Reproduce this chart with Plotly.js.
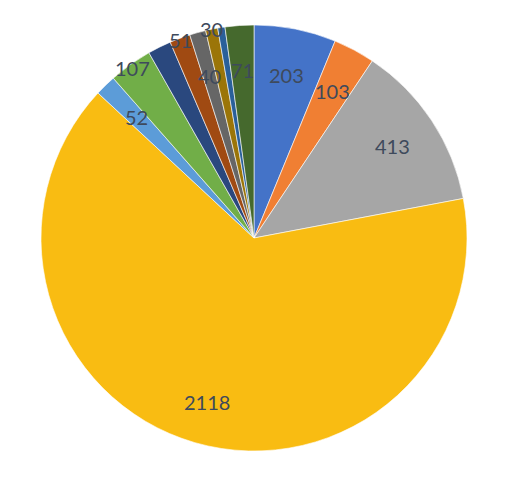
<!DOCTYPE html>
<html><head><meta charset="utf-8">
<script src="https://cdn.plot.ly/plotly-3.0.1.min.js"></script>
<style>html,body{margin:0;padding:0;background:#fff;}#chart{width:512px;height:477px;}</style>
</head><body><div id="chart"></div>
<script>
const categories = ['A','B','C','D','E','F','G','H','I','J','K','L'];
const values = [203, 103, 413, 2118, 52, 107, 58, 51, 40, 30, 18, 71];
const labelText = ['203','103','413','2118','52','107','','51','40','30','','71'];
const colors = ['#4473C8','#F07F33','#A6A6A6','#F9BC12','#5C9CD8','#71AE48','#2A487E','#A04A12','#666666','#9B7508','#2A609A','#45692D'];
const labelRadius = [0.78,0.78,0.78,0.8,0.79,0.98,0.8,0.99,0.79,1.0,0.8,0.79];

const W = 512, H = 477, cx = 254, cy = 238, R = 213;
const total = values.reduce((a,b)=>a+b,0);
const annotations = [];
let cum = 0;
values.forEach((v,i)=>{
  const mid = (cum + v/2)/total*2*Math.PI;
  cum += v;
  if(!labelText[i]) return;
  const r = R*labelRadius[i];
  const px = cx + r*Math.sin(mid);
  const py = cy - r*Math.cos(mid);
  annotations.push({x: px/W, y: 1 - py/H, xref:'paper', yref:'paper', text: labelText[i], showarrow:false,
    font:{family:'Lato, sans-serif', size:20, color:'#3E4A5C'}, xanchor:'center', yanchor:'middle'});
});

const trace = {
  type:'pie', labels: categories, values: values, sort:false, direction:'clockwise', rotation:0,
  marker:{colors: colors, line:{color:'#ffffff', width:0.6}},
  textinfo:'none', hoverinfo:'none', showlegend:false,
  domain:{x:[(cx-R)/W,(cx+R)/W], y:[(H-cy-R)/H,(H-cy+R)/H]}
};
Plotly.newPlot('chart',[trace],{width:W,height:H,margin:{l:0,r:0,t:0,b:0},paper_bgcolor:'#fff',annotations:annotations,showlegend:false},{staticPlot:true});
</script></body></html>
